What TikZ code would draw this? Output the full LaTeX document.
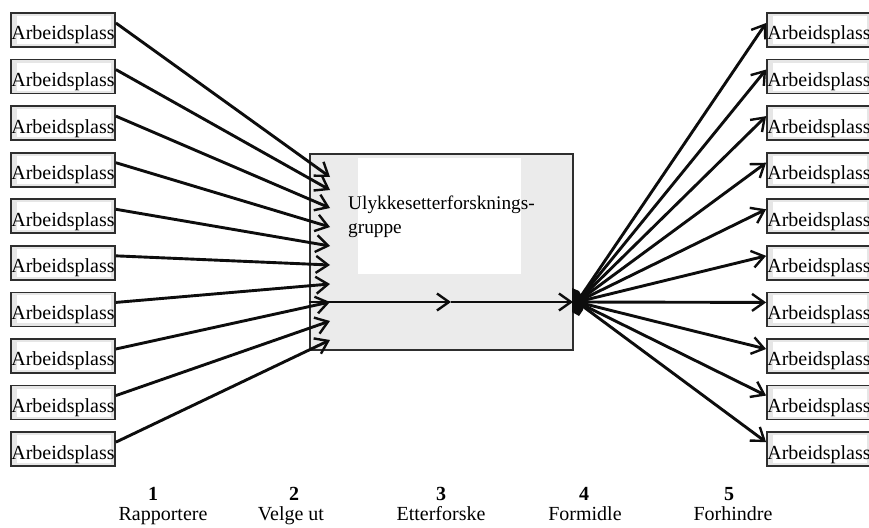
\documentclass[tikz,border=0pt]{standalone}
\usepackage{fontspec}
\setmainfont{Liberation Serif}
\usetikzlibrary{arrows.meta}
\definecolor{edge}{HTML}{0D0D0D}
\definecolor{frame}{HTML}{2E2E2E}
\definecolor{panel}{HTML}{EBEBEB}
\definecolor{boxfill}{HTML}{E6E6E6}
\begin{document}
\begin{tikzpicture}[x=1pt,y=-1pt,
  place/.style={draw=frame, line width=1.8pt, fill=boxfill,
    minimum width=104pt, minimum height=34pt, inner sep=0pt,
    text height=20pt, text depth=0pt, font=\fontsize{20}{24}\selectfont,
    path picture={\fill[white]
      ([shift={(6pt,3pt)}]path picture bounding box.south west) rectangle
      ([shift={(-4pt,-3pt)}]path picture bounding box.north east);}},
  flow/.style={draw=edge, line width=2.9pt,
    -{Straight Barb[length=12pt,width=17pt,line width=2.4pt]}},
  thin flow/.style={flow, line width=2.4pt},
  stepnum/.style={anchor=base, font=\fontsize{20}{24}\selectfont\bfseries},
  steplabel/.style={anchor=base, font=\fontsize{20}{24}\selectfont},
]
\useasboundingbox (0,0) rectangle (869,527);

% central group box with its white text panel
\node[draw=frame, line width=1.8pt, fill=panel, minimum width=263pt,
      minimum height=196pt, inner sep=0pt, anchor=north west] (grp) at (309,153) {};
\fill[white] (358,158) rectangle (521,274);
\node[anchor=north west, inner sep=0pt, align=left,
      font=\fontsize{19.3}{24}\selectfont] (grptext) at (348,195.5)
      {Ulykkesetterforsknings-\\gruppe};

% workplaces on both sides
\foreach \i in {1,...,10}{
  \pgfmathsetmacro{\yy}{30+46.57*(\i-1)}
  \node[place] (L\i) at (63,\yy) {Arbeidsplass};
  \node[place] (R\i) at (819,\yy) {Arbeidsplass};
}

% entry points on the left side of the group box
\foreach \i/\t in {1/177,2/190,3/208,4/227,5/246,6/265,7/284,8/302,9/321,10/340}{
  \coordinate (in\i) at (330,\t);
}
\coordinate (gin) at (309,302);
\coordinate (gmid) at (451,302);
\coordinate (gout) at (573,302);
\coordinate (hub) at (577,302);

% reports flowing in
\foreach \i in {1,...,10}{
  \draw[flow] ([yshift=7pt]L\i.east) -- (in\i);
}

% through the investigation group
\draw[thin flow] (gin) -- (gmid);
\draw[thin flow] (gmid) -- (gout);

% findings spread out
\foreach \i in {1,...,10}{
  \draw[flow] (hub) -- ([yshift=7pt]R\i.west);
}
\fill[edge] (572,288) -- (579,291) -- (584,300) -- (583,310) -- (579,316) -- (572,312) -- cycle;

% phase captions
\node[stepnum] (n1) at (153,500) {1};
\node[stepnum] (n2) at (294,500) {2};
\node[stepnum] (n3) at (441,500) {3};
\node[stepnum] (n4) at (584,500) {4};
\node[stepnum] (n5) at (729,500) {5};
\node[steplabel] (s1) at (163,520) {Rapportere};
\node[steplabel] (s2) at (291,520) {Velge ut};
\node[steplabel] (s3) at (441,520) {Etterforske};
\node[steplabel] (s4) at (585,520) {Formidle};
\node[steplabel] (s5) at (733,520) {Forhindre};
\end{tikzpicture}
\end{document}
